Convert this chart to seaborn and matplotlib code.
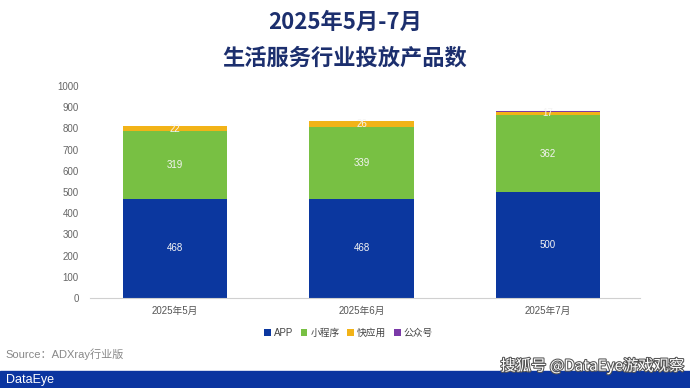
import numpy as np
import pandas as pd
import matplotlib
matplotlib.use("Agg")
import matplotlib.pyplot as plt
import matplotlib.patheffects as pe
from matplotlib.patches import Rectangle
import seaborn as sns

# 数据
months = ["2025年5月", "2025年6月", "2025年7月"]
app = [468, 468, 500]
mini_program = [319, 339, 362]
quick_app = [22, 26, 17]
official_account = [2, 3, 5]

series_names = ["APP", "小程序", "快应用", "公众号"]
series_values = [app, mini_program, quick_app, official_account]
colors = ["#0b379f", "#78c043", "#f2b318", "#7b3aa8"]
show_labels = [True, True, True, False]

sns.set_theme(style="white")
plt.rcParams["font.family"] = ["Liberation Sans", "Noto Sans CJK SC", "DejaVu Sans"]
cjk = ["Noto Sans CJK SC", "DejaVu Sans"]

fig = plt.figure(figsize=(6.9, 3.88), dpi=100)
ax = fig.add_axes([90 / 690, 90 / 388, 550 / 690, 212 / 388])

bottom = np.zeros(len(months))
for name, vals, col, lab in zip(series_names, series_values, colors, show_labels):
    df = pd.DataFrame({"month": months, "value": vals})
    sns.barplot(data=df, x="month", y="value", color=col, bottom=bottom,
                width=0.56, ax=ax, label=name, saturation=1, linewidth=0)
    if lab:
        for i, v in enumerate(vals):
            ax.text(i, bottom[i] + v / 2, str(v), ha="center", va="center",
                    color="#f4f4f4", fontsize=7)
    bottom = bottom + np.array(vals)

ax.set_xlim(-0.456, 2.493)
ax.set_ylim(0, 1000)
ax.set_yticks(range(0, 1001, 100))
ax.tick_params(axis="y", labelsize=7, labelcolor="#666666", length=0, pad=8)
ax.tick_params(axis="x", labelsize=7, labelcolor="#555555", length=0, pad=6)
ax.set_xlabel("")
ax.set_ylabel("")
for s in ["top", "right", "left"]:
    ax.spines[s].set_visible(False)
ax.spines["bottom"].set_color("#d0d0d0")
ax.spines["bottom"].set_linewidth(0.8)

ax.legend(loc="upper center", bbox_to_anchor=(0.47, -0.1), ncol=4, frameon=False,
          fontsize=7, handlelength=0.7, handleheight=0.7, handletextpad=0.3,
          columnspacing=0.8, labelcolor="#444444")

# 标题
fig.text(0.5, 1 - 22 / 388, "2025年5月-7月", ha="center", va="center",
         fontsize=16, fontweight="bold", color="#1c2f6e", family=cjk)
fig.text(0.5, 1 - 58 / 388, "生活服务行业投放产品数", ha="center", va="center",
         fontsize=16, fontweight="bold", color="#1c2f6e", family=cjk)

fig.text(5 / 690, 1 - 354 / 388, "Source：ADXray行业版", ha="left", va="center",
         fontsize=8, color="#888888")

# 底部条
fig.patches.append(Rectangle((0, 0), 1, 17 / 388, transform=fig.transFigure,
                             color="#0b35a0", zorder=0))
fig.text(6 / 690, 8 / 388, "DataEye", ha="left", va="center", fontsize=9,
         color="white")
fig.text(684 / 690, 22 / 388, "搜狐号 @DataEye游戏观察", ha="right", va="center",
         fontsize=11, color="white", family=cjk,
         path_effects=[pe.withStroke(linewidth=1.5, foreground="#555555")])

fig.savefig("out.png", dpi=100)
